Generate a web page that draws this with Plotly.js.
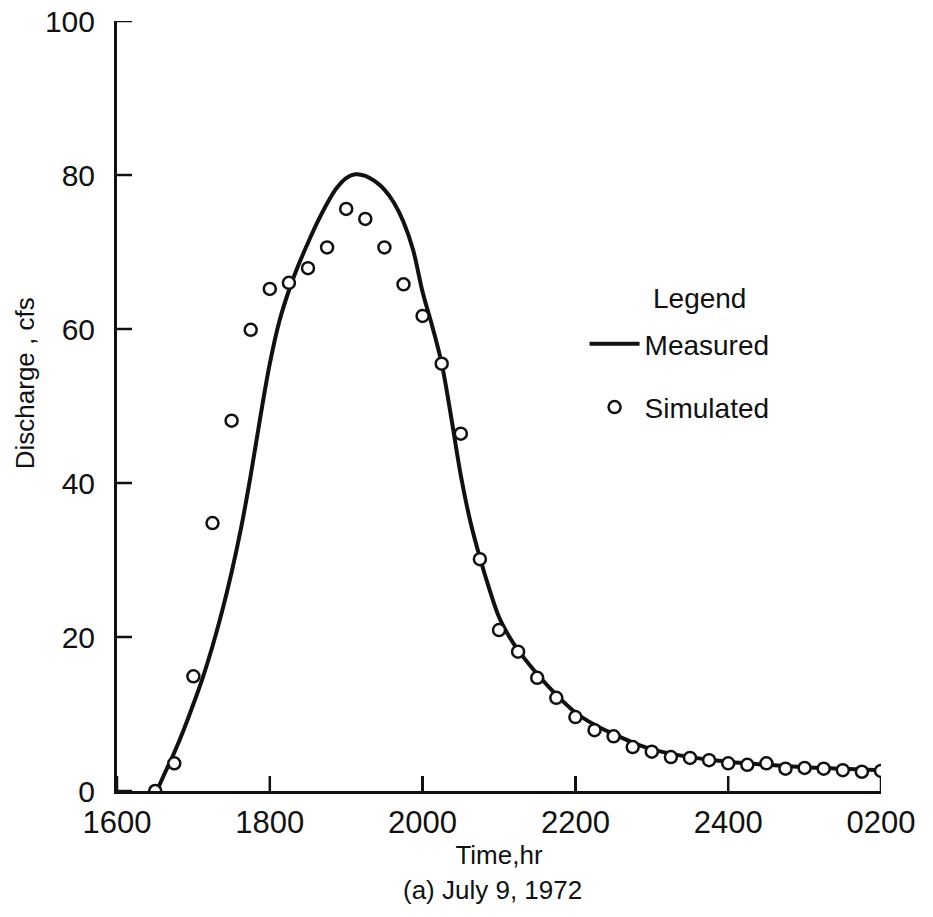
<!DOCTYPE html>
<html>
<head>
<meta charset="utf-8">
<script src="https://cdn.plot.ly/plotly-3.0.1.min.js"></script>
<style>html,body{margin:0;padding:0;background:#fff;}#chart{width:933px;height:917px;}</style>
</head>
<body>
<div id="chart"></div>
<script>
// Time in hours after midnight of July 9 (16 = 1600, 26 = 0200 next day)
var measuredHours = [16.52, 16.625, 16.75, 16.875, 17.0, 17.125, 17.25, 17.375, 17.5, 17.625, 17.75, 17.875, 18.0, 18.125, 18.25, 18.375, 18.5, 18.625, 18.75, 18.875, 19.0, 19.12, 19.25, 19.375, 19.5, 19.625, 19.75, 19.875, 20.0, 20.125, 20.25, 20.375, 20.5, 20.625, 20.75, 20.875, 21.0, 21.125, 21.25, 21.5, 21.75, 22.0, 22.25, 22.5, 22.75, 23.0, 23.5, 24.0, 24.5, 25.0, 25.5, 26.0];
var measuredCfs   = [0, 2.3, 5.0, 8.0, 11.3, 14.8, 18.8, 23.3, 28.4, 34.2, 41.0, 48.5, 55.5, 61.0, 65.0, 68.3, 71.2, 73.9, 76.3, 78.3, 79.6, 80.1, 79.9, 79.2, 78.1, 76.4, 73.9, 70.3, 64.8, 60.4, 55.5, 48.5, 41.0, 35.0, 30.3, 26.2, 22.6, 20.2, 18.3, 15.2, 12.5, 10.2, 8.6, 7.4, 6.3, 5.4, 4.4, 3.8, 3.4, 3.1, 2.9, 2.7];

var simulatedHours = [16.5, 16.75, 17.0, 17.25, 17.5, 17.75, 18.0, 18.25, 18.5, 18.75, 19.0, 19.25, 19.5, 19.75, 20.0, 20.25, 20.5, 20.75, 21.0, 21.25, 21.5, 21.75, 22.0, 22.25, 22.5, 22.75, 23.0, 23.25, 23.5, 23.75, 24.0, 24.25, 24.5, 24.75, 25.0, 25.25, 25.5, 25.75, 26.0];
var simulatedCfs   = [0, 3.6, 14.9, 34.8, 48.1, 59.9, 65.2, 66.0, 67.9, 70.6, 75.6, 74.3, 70.6, 65.8, 61.7, 55.5, 46.4, 30.1, 20.9, 18.1, 14.7, 12.1, 9.6, 7.9, 7.1, 5.7, 5.1, 4.4, 4.3, 4.0, 3.6, 3.4, 3.6, 2.9, 3.0, 2.9, 2.7, 2.5, 2.6];

var xTickVals   = [16, 18, 20, 22, 24, 26];
var xTickLabels = ["1600", "1800", "2000", "2200", "2400", "0200"];
var yTickVals   = [0, 20, 40, 60, 80, 100];

var ink = "#111";
var xTickFont = {family: "Liberation Sans, Arial, sans-serif", size: 31, color: ink};
var yTickFont = {family: "Liberation Sans, Arial, sans-serif", size: 30, color: ink};
var textFont = {family: "Liberation Sans, Arial, sans-serif", size: 26, color: ink};

var traces = [
  {
    x: measuredHours, y: measuredCfs, name: "Measured", type: "scatter", mode: "lines",
    line: {color: ink, width: 4, shape: "spline", smoothing: 1},
    legendgroup: "m"
  },
  {
    x: simulatedHours, y: simulatedCfs, name: "Simulated", type: "scatter", mode: "markers",
    marker: {symbol: "circle", size: 12, color: "#fff", line: {color: ink, width: 2.5}},
    legendgroup: "s"
  }
];

// inward tick marks built from the tick arrays
var plotW = 933 - 117 - 52, plotH = 917 - 21 - 126, tickLen = 15;
var shapes = [];
xTickVals.forEach(function (v) {
  shapes.push({type: "line", xref: "x", yref: "paper", x0: v, x1: v, y0: 0, y1: tickLen / plotH,
               line: {color: ink, width: 2.5}});
});
yTickVals.forEach(function (v) {
  shapes.push({type: "line", xref: "paper", yref: "y", x0: 0, x1: tickLen / plotW, y0: v, y1: v,
               line: {color: ink, width: 2.5}});
});

var layout = {
  width: 933, height: 917,
  margin: {l: 117, r: 52, t: 21, b: 126},
  paper_bgcolor: "#fff", plot_bgcolor: "#fff",
  showlegend: true,
  legend: {
    x: 0.612, y: 0.613, xanchor: "left", yanchor: "top",
    font: {family: "Liberation Sans, Arial, sans-serif", size: 28, color: ink},
    bgcolor: "rgba(0,0,0,0)", borderwidth: 0,
    tracegroupgap: 24, itemwidth: 50
  },
  xaxis: {
    range: [16, 26], tickmode: "array", tickvals: xTickVals, ticktext: xTickLabels,
    showline: true, linecolor: ink, linewidth: 3,
    ticks: "inside", ticklen: tickLen, tickwidth: 2.5, tickcolor: ink,
    showgrid: false, zeroline: false, tickfont: xTickFont,
    ticklabelstandoff: 2,
    title: {text: "Time,hr", font: textFont, standoff: 4}
  },
  yaxis: {
    range: [0, 100], tickmode: "array", tickvals: yTickVals,
    showline: true, linecolor: ink, linewidth: 3,
    ticks: "inside", ticklen: tickLen, tickwidth: 2.5, tickcolor: ink,
    showgrid: false, zeroline: false, tickfont: yTickFont,
    ticklabelstandoff: 13
  },
  shapes: shapes,
  annotations: [
    {text: "Discharge , cfs", xref: "paper", yref: "paper", x: -0.12, y: 0.53, xanchor: "center", yanchor: "middle",
     textangle: -90, showarrow: false, font: textFont},
    {text: "Legend", xref: "paper", yref: "paper", x: 0.699, y: 0.640, xanchor: "left", yanchor: "middle",
     showarrow: false, font: {family: "Liberation Sans, Arial, sans-serif", size: 28, color: ink}},
    {text: "(a) July 9, 1972", xref: "paper", yref: "paper", x: 0.492, y: -0.1286, xanchor: "center", yanchor: "middle",
     showarrow: false, font: textFont}
  ]
};

Plotly.newPlot("chart", traces, layout, {displayModeBar: false, staticPlot: true});
</script>
</body>
</html>
